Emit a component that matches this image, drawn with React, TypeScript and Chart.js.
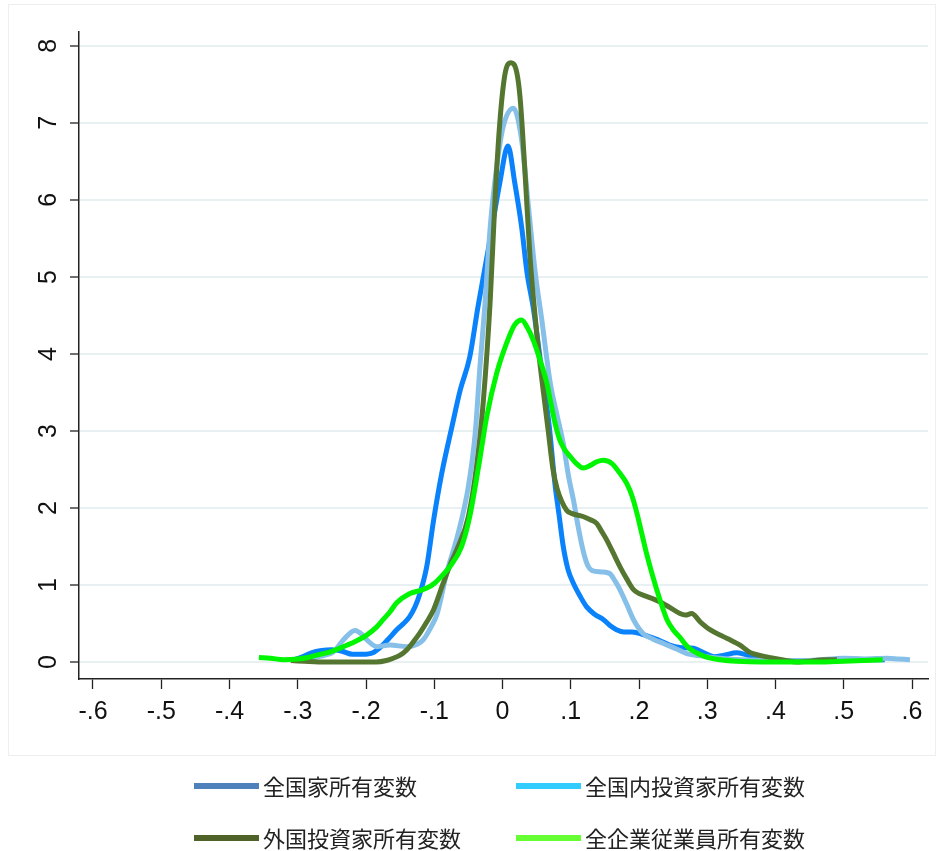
import React, { useEffect, useRef } from 'react';
import { Chart, registerables } from 'chart.js';

Chart.register(...registerables);

// ---- Data ----
const seriesNames = ['全国家所有変数', '全国内投資家所有変数', '外国投資家所有変数', '全企業従業員所有変数'];
const lineColors = ['#0a82fb', '#86bfe8', '#557630', '#00f500'];
const legendColors = ['#4f81bd', '#33ccff', '#4f6228', '#66ff33'];

const xTickValues = [-0.6, -0.5, -0.4, -0.3, -0.2, -0.1, 0, 0.1, 0.2, 0.3, 0.4, 0.5, 0.6];
const xTickLabels = ['-.6', '-.5', '-.4', '-.3', '-.2', '-.1', '0', '.1', '.2', '.3', '.4', '.5', '.6'];
const yTickValues = [0, 1, 2, 3, 4, 5, 6, 7, 8];
const yTickLabels = ['0', '1', '2', '3', '4', '5', '6', '7', '8'];

// [x, density]
const stateCurve: [number, number][] = [
  [-0.31, 0.02], [-0.295, 0.06], [-0.28, 0.12], [-0.265, 0.15], [-0.25, 0.16], [-0.235, 0.14],
  [-0.22, 0.1], [-0.205, 0.1], [-0.19, 0.12], [-0.178, 0.2], [-0.165, 0.32], [-0.155, 0.42],
  [-0.145, 0.5], [-0.136, 0.59], [-0.128, 0.72], [-0.121, 0.89], [-0.111, 1.24], [-0.101, 1.84],
  [-0.089, 2.45], [-0.074, 3.06], [-0.062, 3.53], [-0.048, 3.96], [-0.036, 4.61], [-0.018, 5.5],
  [-0.004, 6.22], [0.008, 6.7], [0.018, 6.22], [0.028, 5.65], [0.036, 5.05], [0.045, 4.6],
  [0.058, 3.75], [0.068, 3.1], [0.077, 2.3], [0.083, 1.9], [0.089, 1.5], [0.096, 1.2],
  [0.104, 1.02], [0.114, 0.85], [0.123, 0.72], [0.135, 0.62], [0.148, 0.55], [0.158, 0.47],
  [0.167, 0.42], [0.178, 0.39], [0.19, 0.39], [0.205, 0.36], [0.221, 0.31], [0.235, 0.26],
  [0.245, 0.22], [0.26, 0.19], [0.28, 0.18], [0.295, 0.12], [0.31, 0.07], [0.325, 0.09],
  [0.343, 0.12], [0.355, 0.1], [0.367, 0.07], [0.39, 0.03], [0.41, 0.01], [0.45, 0.01],
  [0.5, 0.02], [0.53, 0.03], [0.56, 0.03],
];

const domesticCurve: [number, number][] = [
  [-0.3, 0.02], [-0.28, 0.05], [-0.26, 0.09], [-0.248, 0.13], [-0.233, 0.29], [-0.216, 0.41],
  [-0.205, 0.35], [-0.199, 0.29], [-0.184, 0.2], [-0.165, 0.22], [-0.14, 0.2], [-0.125, 0.23],
  [-0.116, 0.29], [-0.105, 0.45], [-0.096, 0.62], [-0.082, 1.15], [-0.065, 1.67], [-0.05, 2.28],
  [-0.04, 2.97], [-0.033, 3.84], [-0.026, 4.61], [-0.018, 5.65], [-0.0085, 6.43], [0.001, 6.95],
  [0.016, 7.19], [0.028, 6.78], [0.038, 5.91], [0.048, 5.05], [0.057, 4.48], [0.07, 3.62],
  [0.08, 3.2], [0.089, 2.84], [0.097, 2.4], [0.104, 2.1], [0.111, 1.75], [0.118, 1.45],
  [0.125, 1.25], [0.131, 1.19], [0.145, 1.17], [0.157, 1.15], [0.165, 1.05], [0.172, 0.94],
  [0.182, 0.75], [0.192, 0.55], [0.206, 0.37], [0.22, 0.3], [0.236, 0.24], [0.255, 0.17],
  [0.27, 0.11], [0.29, 0.08], [0.319, 0.05], [0.35, 0.03], [0.4, 0.02], [0.45, 0.02],
  [0.5, 0.05], [0.53, 0.04], [0.563, 0.05], [0.58, 0.04], [0.597, 0.03],
];

const foreignCurve: [number, number][] = [
  [-0.31, 0.02], [-0.29, 0.01], [-0.27, 0.0], [-0.24, 0.0], [-0.21, 0.0], [-0.185, 0.0],
  [-0.17, 0.02], [-0.16, 0.05], [-0.15, 0.09], [-0.14, 0.16], [-0.13, 0.27], [-0.121, 0.38],
  [-0.111, 0.52], [-0.101, 0.68], [-0.087, 1.02], [-0.075, 1.3], [-0.065, 1.5], [-0.05, 1.89],
  [-0.038, 2.54], [-0.028, 3.4], [-0.018, 4.7], [-0.011, 6.0], [-0.004, 7.0], [0.004, 7.65],
  [0.0125, 7.78], [0.021, 7.65], [0.026, 7.3], [0.033, 6.35], [0.04, 5.3], [0.045, 4.75],
  [0.052, 4.1], [0.06, 3.5], [0.067, 3.0], [0.074, 2.5], [0.08, 2.25], [0.087, 2.08],
  [0.094, 1.97], [0.101, 1.93], [0.118, 1.89], [0.128, 1.85], [0.138, 1.8], [0.145, 1.7],
  [0.153, 1.58], [0.162, 1.42], [0.172, 1.24], [0.182, 1.08], [0.192, 0.94], [0.2, 0.89],
  [0.206, 0.87], [0.218, 0.83], [0.231, 0.78], [0.245, 0.71], [0.26, 0.63], [0.268, 0.61],
  [0.277, 0.63], [0.29, 0.52], [0.304, 0.42], [0.3235, 0.33], [0.335, 0.28], [0.348, 0.22],
  [0.36, 0.14], [0.367, 0.11], [0.38, 0.08], [0.397, 0.05], [0.415, 0.02], [0.431, 0.0],
  [0.45, 0.01], [0.47, 0.03], [0.49, 0.03],
];

const employeeCurve: [number, number][] = [
  [-0.357, 0.06], [-0.34, 0.05], [-0.321, 0.03], [-0.3, 0.04], [-0.285, 0.06], [-0.272, 0.09],
  [-0.25, 0.14], [-0.233, 0.2], [-0.215, 0.27], [-0.199, 0.35], [-0.185, 0.45], [-0.175, 0.55],
  [-0.165, 0.65], [-0.155, 0.77], [-0.1355, 0.89], [-0.12, 0.93], [-0.111, 0.96], [-0.1, 1.02],
  [-0.092, 1.09], [-0.077, 1.24], [-0.06, 1.5], [-0.048, 1.89], [-0.035, 2.54], [-0.023, 3.19],
  [-0.0085, 3.75], [0.006, 4.14], [0.018, 4.38], [0.028, 4.44], [0.036, 4.35], [0.045, 4.18],
  [0.055, 3.92], [0.065, 3.62], [0.07, 3.4], [0.077, 3.1], [0.084, 2.88], [0.091, 2.76],
  [0.099, 2.67], [0.108, 2.58], [0.118, 2.52], [0.128, 2.55], [0.138, 2.6], [0.148, 2.62],
  [0.16, 2.58], [0.172, 2.45], [0.182, 2.32], [0.19, 2.15], [0.197, 1.93], [0.204, 1.67],
  [0.211, 1.41], [0.218, 1.18], [0.226, 0.94], [0.234, 0.72], [0.241, 0.55], [0.25, 0.42],
  [0.26, 0.32], [0.27, 0.21], [0.28, 0.14], [0.289, 0.1], [0.3, 0.06], [0.319, 0.03],
  [0.343, 0.01], [0.38, 0.0], [0.42, 0.0], [0.46, 0.0], [0.5, 0.01], [0.53, 0.02], [0.557, 0.03],
];

const curves = [stateCurve, domesticCurve, foreignCurve, employeeCurve];

// ---- Plugins ----
const framePlugin = {
  id: 'frame',
  beforeDraw(chart: any) {
    const ctx = chart.ctx;
    ctx.save();
    ctx.fillStyle = '#ffffff';
    ctx.fillRect(0, 0, chart.width, chart.height);
    ctx.strokeStyle = '#eeeeee';
    ctx.lineWidth = 1;
    ctx.strokeRect(8.5, 4.5, 927, 751);
    ctx.restore();
  },
};

const legendPlugin = {
  id: 'gridLegend',
  afterDraw(chart: any) {
    const ctx = chart.ctx;
    const colX = [194, 516];
    const rowY = [786, 838];
    ctx.save();
    ctx.font = '22px "Noto Sans CJK JP", sans-serif';
    ctx.textBaseline = 'middle';
    ctx.textAlign = 'left';
    chart.data.datasets.forEach((ds: any, i: number) => {
      const x = colX[i % 2];
      const y = rowY[Math.floor(i / 2)];
      ctx.fillStyle = legendColors[i];
      ctx.fillRect(x, y - 3, 65, 6);
      ctx.fillStyle = '#222222';
      ctx.fillText(ds.label, x + 69, y + 1);
    });
    ctx.restore();
  },
};

export default function App() {
  const ref = useRef<HTMLCanvasElement>(null);

  useEffect(() => {
    const tickFont = { family: '"Liberation Sans Narrow", "Liberation Sans", Arial, sans-serif', size: 25 };
    const datasets = curves.map((c, i) => ({
      label: seriesNames[i],
      data: c.map(([x, y]) => ({ x, y })),
      borderColor: lineColors[i],
      backgroundColor: lineColors[i],
      borderWidth: 5,
      pointRadius: 0,
      fill: false,
      cubicInterpolationMode: 'monotone' as const,
      order: 3 - i,
    }));

    const chart = new Chart(ref.current!, {
      type: 'line',
      data: { datasets },
      plugins: [framePlugin, legendPlugin],
      options: {
        animation: false,
        responsive: false,
        layout: { padding: { left: 0, right: 15, top: 32, bottom: 112 } },
        plugins: {
          legend: { display: false },
          tooltip: { enabled: false },
        },
        scales: {
          x: {
            type: 'linear',
            min: -0.6205,
            max: 0.6234,
            afterBuildTicks: (scale: any) => {
              scale.ticks = xTickValues.map((v) => ({ value: v }));
            },
            afterFit: (scale: any) => {
              scale.height = 60;
            },
            ticks: {
              autoSkip: false,
              maxRotation: 0,
              minRotation: 0,
              padding: 8,
              color: '#111111',
              font: tickFont,
              callback: (v: any) => {
                const idx = xTickValues.findIndex((t) => Math.abs(t - Number(v)) < 1e-9);
                return idx >= 0 ? xTickLabels[idx] : '';
              },
            },
            grid: {
              display: true,
              drawOnChartArea: false,
              drawTicks: true,
              tickLength: 10,
              tickColor: '#222222',
              tickWidth: 1.3,
            },
            border: { display: true, color: '#222222', width: 1.5 },
          },
          y: {
            type: 'linear',
            min: -0.22,
            max: 8.18,
            afterBuildTicks: (scale: any) => {
              scale.ticks = yTickValues.map((v) => ({ value: v }));
            },
            afterFit: (scale: any) => {
              scale.width = 79;
            },
            ticks: {
              autoSkip: false,
              minRotation: 90,
              maxRotation: 90,
              crossAlign: 'center',
              padding: 14,
              color: '#111111',
              font: tickFont,
              callback: (v: any) => {
                const idx = yTickValues.findIndex((t) => Math.abs(t - Number(v)) < 1e-9);
                return idx >= 0 ? yTickLabels[idx] : '';
              },
            },
            grid: {
              display: true,
              drawOnChartArea: true,
              drawTicks: true,
              tickLength: 9,
              color: '#e9f0f2',
              lineWidth: 2,
              tickColor: '#222222',
              tickWidth: 1.3,
            },
            border: { display: true, color: '#222222', width: 1.5 },
          },
        },
      } as any,
    });
    return () => chart.destroy();
  }, []);

  return (
    <div style={{ position: 'absolute', left: 0, top: 0, width: 943, height: 851 }}>
      <canvas ref={ref} width={943} height={851} style={{ display: 'block' }} />
    </div>
  );
}
